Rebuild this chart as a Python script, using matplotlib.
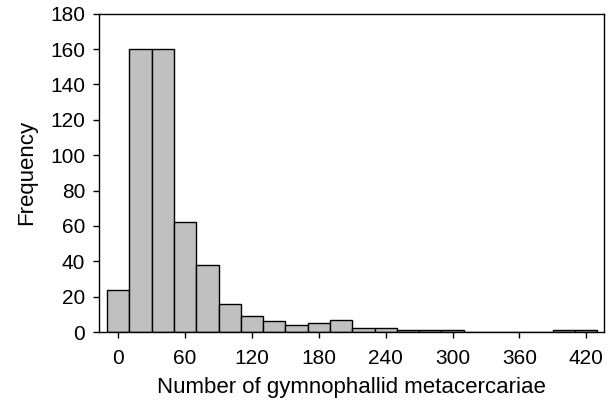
import matplotlib.pyplot as plt

plt.rcParams['font.family'] = ['Liberation Sans', 'DejaVu Sans']

# bin centres (width 20) and counts
bin_centers = [0, 20, 40, 60, 80, 100, 120, 140, 160, 180, 200,
               220, 240, 260, 280, 300, 320, 340, 360, 380, 400, 420]
counts = [24, 160, 160, 62, 38, 16, 9, 6, 4, 5, 7,
          2, 2, 1, 1, 1, 0, 0, 0, 0, 1, 1]
bin_width = 20

x_ticks = [0, 60, 120, 180, 240, 300, 360, 420]
y_ticks = [0, 20, 40, 60, 80, 100, 120, 140, 160, 180]

fig = plt.figure(figsize=(6.1, 4.01), dpi=100)
ax = fig.add_axes([0.1623, 0.172, 0.828, 0.794])

ax.bar(bin_centers, counts, width=bin_width, color='#c0c0c0',
       edgecolor='black', linewidth=1.0)

ax.set_xlim(-17.3, 436)
ax.set_ylim(0, 180)
ax.set_xticks(x_ticks)
ax.set_yticks(y_ticks)
ax.tick_params(direction='out', length=4, width=1, labelsize=15)
ax.tick_params(axis='x', pad=8)
ax.tick_params(axis='y', pad=6)

for s in ax.spines.values():
    s.set_linewidth(1)

ax.set_xlabel('Number of gymnophallid metacercariae', fontsize=16, labelpad=7)
ax.set_ylabel('Frequency', fontsize=16, labelpad=9)

fig.savefig('out.png', dpi=100)
